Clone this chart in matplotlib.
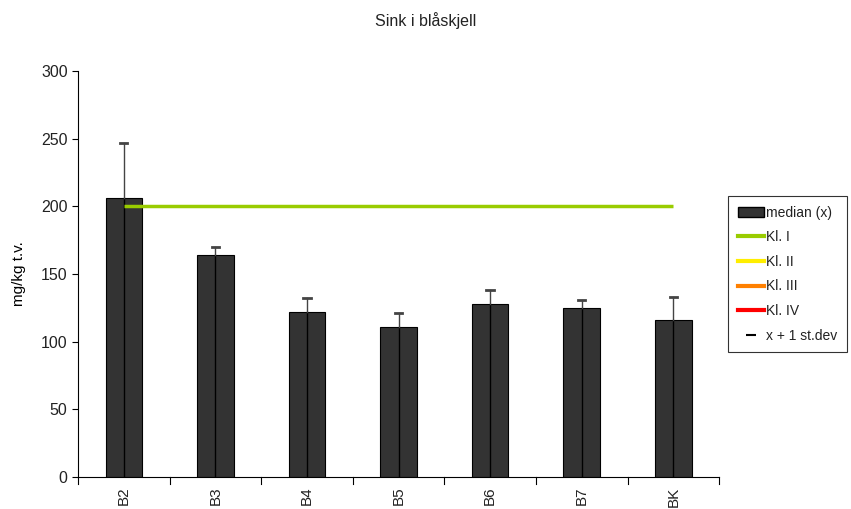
import matplotlib
matplotlib.use("Agg")
import matplotlib.pyplot as plt
from matplotlib.lines import Line2D
from matplotlib.patches import Patch

plt.rcParams['font.family'] = ['Liberation Sans', 'DejaVu Sans']
plt.rcParams['text.color'] = '#222222'
plt.rcParams['xtick.color'] = '#222222'
plt.rcParams['ytick.color'] = '#222222'

stations = ["B2", "B3", "B4", "B5", "B6", "B7", "BK"]
median = [206, 164, 122, 111, 128, 125, 116]
sd = [41, 6, 10, 10, 10, 6, 17]
class_limits = {"Kl. I": 200, "Kl. II": 400, "Kl. III": 1000, "Kl. IV": 2500}
class_colors = {"Kl. I": "#99cc00", "Kl. II": "#ffee00", "Kl. III": "#ff8000", "Kl. IV": "#ff0000"}
yticks = [0, 50, 100, 150, 200, 250, 300]

fig = plt.figure(figsize=(8.51, 5.09), dpi=100)
ax = fig.add_axes([0.0917, 0.0629, 0.7533, 0.7976])

x = list(range(len(stations)))
ax.bar(x, median, width=0.4, color="#333333", edgecolor="black", linewidth=0.8, zorder=2)
for xi, m, s in zip(x, median, sd):
    ax.plot([xi, xi], [0, m], color="black", lw=1, zorder=3)
    ax.plot([xi, xi], [m, m + s], color="#444444", lw=1, zorder=3)
    ax.plot([xi - 0.04, xi + 0.04], [m + s, m + s], color="#444444", lw=2, zorder=3)

for name, val in class_limits.items():
    ax.plot([x[0], x[-1]], [val, val], color=class_colors[name], lw=2.5, zorder=4, solid_capstyle='butt')

ax.set_xlim(-0.5, len(stations) - 0.5)
ax.set_ylim(0, 300)
ax.set_yticks(yticks)
ax.set_xticks(x)
ax.set_xticklabels(stations, rotation=90, fontsize=11)
ax.tick_params(axis='y', labelsize=11.5, direction='out', length=4, color='black')
ax.tick_params(axis='x', length=0, pad=7)
for b in [i - 0.5 for i in range(len(stations) + 1)]:
    ax.plot([b, b], [0, -5], color="black", lw=0.8, clip_on=False)
ax.spines['top'].set_visible(False)
ax.spines['right'].set_visible(False)
ax.set_ylabel("mg/kg t.v.", fontsize=11, labelpad=11)
fig.text(0.5, 0.96, "Sink i blåskjell", ha='center', va='center', fontsize=11.5)

handles = [Patch(facecolor="#333333", edgecolor="black", label="median (x)")]
for name in class_limits:
    handles.append(Line2D([0], [0], color=class_colors[name], lw=3, label=name))
handles.append(Line2D([0], [0], color="black", marker="_", markersize=7, markeredgewidth=1.5, lw=0, label="x + 1 st.dev"))
leg = fig.legend(handles=handles, loc='upper left', bbox_to_anchor=(728 / 851, 1 - 196 / 509),
                 fontsize=10, frameon=True, fancybox=False, edgecolor="black",
                 handlelength=1.9, handleheight=0.7, handletextpad=0.15, labelspacing=0.76,
                 borderpad=0.7, borderaxespad=0)
leg.get_frame().set_linewidth(0.8)

fig.savefig("out.png", dpi=100)
